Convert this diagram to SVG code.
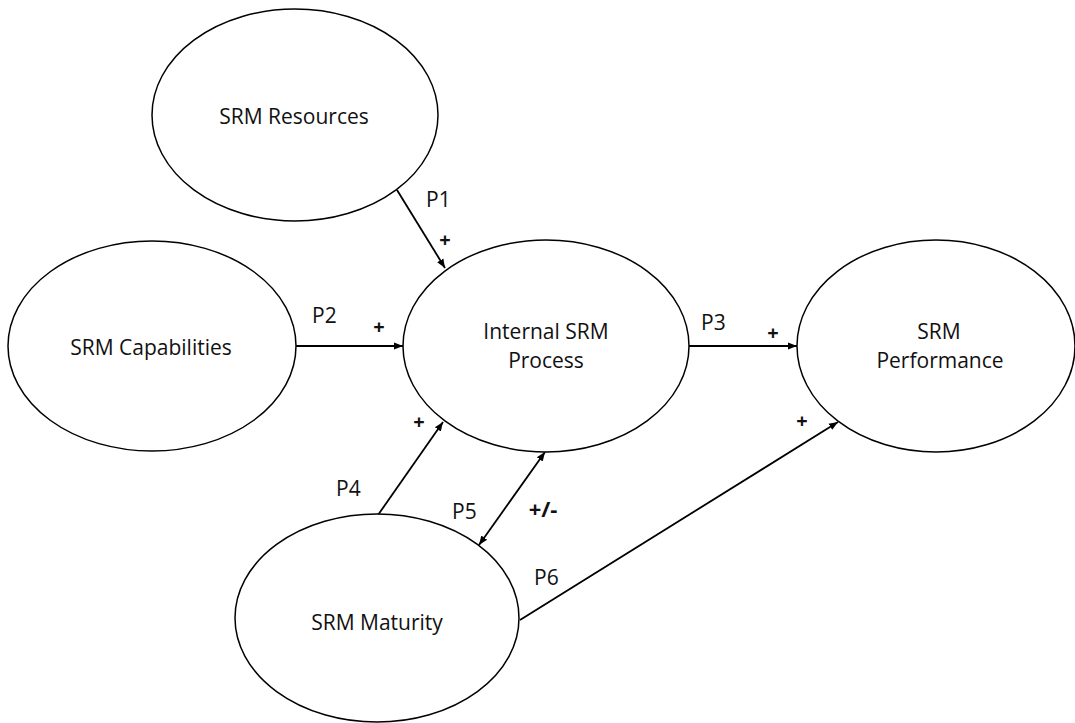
<svg xmlns="http://www.w3.org/2000/svg" width="1075" height="723" viewBox="0 0 1075 723">
<style>
.node ellipse{fill:#fff;stroke:#000;stroke-width:1.5}
.lbl{font-family:"Open Sans","Liberation Sans",sans-serif;font-size:21px;fill:#111;text-anchor:middle}
.p{font-family:"Open Sans","Liberation Sans",sans-serif;font-size:21px;fill:#111}
.s{font-family:"Open Sans","Liberation Sans",sans-serif;font-size:20px;font-weight:bold;fill:#111;text-anchor:middle}
#connectors line{stroke:#000;stroke-width:1.8;fill:none}
</style>
<defs>
<marker id="ah" viewBox="0 0 10 10" refX="10" refY="5" markerWidth="5" markerHeight="5" orient="auto-start-reverse" markerUnits="strokeWidth">
<path d="M0,1 L10,5 L0,9 z" fill="#000"/>
</marker>
</defs>
<rect width="1075" height="723" fill="#fff"/>
<g id="connectors">
<line x1="397" y1="190" x2="445" y2="268" marker-end="url(#ah)"/>
<line x1="296" y1="346" x2="403" y2="346" marker-end="url(#ah)"/>
<line x1="689" y1="346" x2="797" y2="346" marker-end="url(#ah)"/>
<line x1="378" y1="515" x2="443" y2="422" marker-end="url(#ah)"/>
<line x1="479" y1="545" x2="545" y2="452" marker-start="url(#ah)" marker-end="url(#ah)"/>
<line x1="520" y1="620" x2="838" y2="422" marker-end="url(#ah)"/>
</g>
<g id="n-resources" class="node"><ellipse cx="295" cy="115" rx="143" ry="106"/><text class="lbl" x="294" y="124">SRM Resources</text></g>
<g id="n-capabilities" class="node"><ellipse cx="152" cy="346" rx="144" ry="105"/><text class="lbl" x="151" y="355">SRM Capabilities</text></g>
<g id="n-process" class="node"><ellipse cx="546" cy="346" rx="143" ry="106"/><text class="lbl" x="546" y="339">Internal SRM</text><text class="lbl" x="546" y="368">Process</text></g>
<g id="n-performance" class="node"><ellipse cx="936" cy="346" rx="139" ry="106"/><text class="lbl" x="939" y="339">SRM</text><text class="lbl" x="940" y="368">Performance</text></g>
<g id="n-maturity" class="node"><ellipse cx="377" cy="618" rx="142" ry="104"/><text class="lbl" x="377" y="630">SRM Maturity</text></g>
<g id="labels">
<text class="p" x="426" y="207">P1</text>
<text class="s" x="445" y="247">+</text>
<text class="p" x="312" y="323">P2</text>
<text class="s" x="379" y="334">+</text>
<text class="p" x="701" y="330">P3</text>
<text class="s" x="773" y="340">+</text>
<text class="s" x="419" y="429">+</text>
<text class="p" x="336" y="496">P4</text>
<text class="p" x="452" y="519">P5</text>
<text class="s" x="543" y="517" style="font-size:22px">+/-</text>
<text class="p" x="534" y="585">P6</text>
<text class="s" x="802" y="428">+</text>
</g>
</svg>
